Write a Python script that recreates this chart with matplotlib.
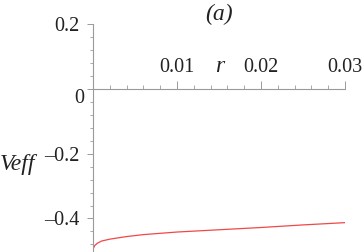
import matplotlib.pyplot as plt
from matplotlib.ticker import MultipleLocator

# data
r = [0.0, 0.0002, 0.0005, 0.001, 0.002, 0.004, 0.006, 0.008, 0.010, 0.015, 0.020, 0.025, 0.030]
veff = [-0.495, -0.484, -0.477, -0.470, -0.464, -0.456, -0.450, -0.446, -0.442, -0.435, -0.428, -0.420, -0.413]
xticks = [0.01, 0.02, 0.03]
xticklabels = ["0.01", "0.02", "0.03"]
yticks = [-0.4, -0.2, 0, 0.2]
yticklabels = ["\u20130.4", "\u20130.2", "", "0.2"]

plt.rcParams['font.family'] = ['Liberation Serif', 'DejaVu Serif']
axis_col = '#9a9a9a'
text_col = '#222222'

fig = plt.figure(figsize=(3.63, 2.52), dpi=100)
ax = fig.add_axes([93 / 363, 1.2 / 252, 252 / 363, 226.5 / 252])

ax.plot(r, veff, color='#f04848', lw=0.9)

ax.set_xlim(0, 0.03)
ax.set_ylim(-0.5, 0.2)

# axes cross at the origin, x labels above the axis
ax.spines['bottom'].set_visible(False)
ax.spines['right'].set_visible(False)
ax.spines['top'].set_position(('data', 0))
ax.spines['left'].set_position(('data', 0))
for s in ('top', 'left'):
    ax.spines[s].set_color(axis_col)
    ax.spines[s].set_linewidth(0.8)

ax.xaxis.set_ticks_position('top')
ax.set_xticks(xticks)
ax.set_xticklabels(xticklabels)
ax.xaxis.set_minor_locator(MultipleLocator(0.002))
ax.set_yticks(yticks)
ax.set_yticklabels(yticklabels)
ax.yaxis.set_minor_locator(MultipleLocator(0.04))

ax.tick_params(axis='x', which='major', direction='out', length=6, width=0.7,
               color=axis_col, labelcolor=text_col, labelsize=14.5, pad=3)
ax.tick_params(axis='x', which='minor', direction='out', length=3, width=0.6, color=axis_col)
ax.tick_params(axis='y', which='major', direction='out', length=4, width=0.7,
               color=axis_col, labelcolor=text_col, labelsize=14.5, pad=6)
ax.tick_params(axis='y', which='minor', direction='out', length=2, width=0.6, color=axis_col)

# "0" label sits below the x axis
fig.text(84 / 363, 1 - 99 / 252, "0", ha='right', va='center', fontsize=14.5, color=text_col)

fig.text(220 / 363, 1 - 72.5 / 252, "r", ha='center', va='baseline', fontsize=17,
         style='italic', color=text_col)
fig.text(219 / 363, 1 - 20 / 252, "(a)", ha='center', va='baseline', fontsize=17,
         style='italic', color=text_col)
fig.text(35 / 363, 1 - 170 / 252, "Veff", ha='right', va='baseline', fontsize=17,
         style='italic', color=text_col)

fig.savefig('out.png', dpi=100)
